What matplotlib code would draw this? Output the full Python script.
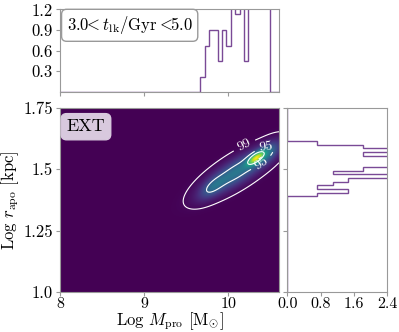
import numpy as np
import matplotlib
matplotlib.use("Agg")
import matplotlib.pyplot as plt

plt.rcParams['font.family'] = 'serif'
plt.rcParams['font.serif'] = ['cmr10', 'DejaVu Serif']
plt.rcParams['mathtext.fontset'] = 'cm'
plt.rcParams['axes.formatter.use_mathtext'] = True

# marginal histograms (density per bin)
mass_bins = np.linspace(8.0, 10.6, 51)
mass_density = [0.0] * 32 + [0.22, 0.66, 0.9, 0.9, 0.45, 0.9, 0.66, 1.6, 1.13,
                             1.8, 0.45, 2.2, 2.6, 2.4, 2.0, 1.5, 0.0, 0.0]
rapo_bins = np.linspace(1.0, 1.75, 51)
rapo_density = [0.0] * 26 + [0.72, 1.46, 0.72, 1.10, 1.46, 9.0, 1.10, 1.82, 12.0,
                             14.0, 10.0, 1.82, 6.0, 1.82, 0.72] + [0.0] * 9

# 2d density: sheared gaussian blobs (centre x, centre y, sigma along, sigma across, weight)
blob_cx = [10.10, 10.32, 9.80, 10.46]
blob_cy = [1.492, 1.547, 1.425, 1.568]
blob_su = [0.26, 0.07, 0.10, 0.10]
blob_sv = [0.037, 0.015, 0.024, 0.026]
blob_w = [0.34, 0.56, 0.16, 0.22]
blob_slope = 0.19

contour_levels = [0.02, 0.30, 0.62]
contour_names = ['99', '95', '68']

xx, yy = np.meshgrid(np.linspace(8.0, 10.6, 300), np.linspace(1.0, 1.75, 300))
zz = np.zeros_like(xx)
for cx, cy, su, sv, w in zip(blob_cx, blob_cy, blob_su, blob_sv, blob_w):
    u = xx - cx
    v = (yy - cy) - blob_slope * u
    zz += w * np.exp(-0.5 * (u / su) ** 2 - 0.5 * (v / sv) ** 2)
zz /= zz.max()

line_col = '#7a4a96'
spine_col = '#999999'

fig = plt.figure(figsize=(3.99, 3.32), dpi=100)
ax = fig.add_axes([0.1504, 0.1205, 0.5489, 0.5542])
ax_top = fig.add_axes([0.1504, 0.7238, 0.5489, 0.2480])
ax_r = fig.add_axes([0.7200, 0.1205, 0.2506, 0.5542])

ax.imshow(zz, origin='lower', extent=[8.0, 10.6, 1.0, 1.75], aspect='auto',
          cmap='viridis', interpolation='bilinear')
cs = ax.contour(xx, yy, zz, levels=contour_levels, colors='white', linewidths=0.8)
ax.clabel(cs, fmt=dict(zip(contour_levels, contour_names)), fontsize=10,
          inline=True, manual=[(10.2, 1.59), (10.45, 1.58), (10.38, 1.53)])
ax.set_xlim(8.0, 10.6)
ax.set_ylim(1.0, 1.75)
ax.set_xticks([8, 9, 10], ['8', '9', '10'])
ax.set_yticks([1.0, 1.25, 1.5, 1.75], ['1.0', '1.25', '1.5', '1.75'])
ax.set_xlabel(r'Log $M_{\rm pro}$ [M$_{\odot}$]', fontsize=12)
ax.xaxis.set_label_coords(0.5, -0.1)
ax.set_ylabel(r'Log $r_{\rm apo}$ [kpc]', fontsize=12, labelpad=2)
ax.text(0.03, 0.94, 'EXT', transform=ax.transAxes, fontsize=13, va='top', ha='left',
        bbox=dict(boxstyle='round,pad=0.3', facecolor='#d8c9de', edgecolor='#d8c9de'))

ax_top.stairs(mass_density, mass_bins, color=line_col, linewidth=1)
ax_top.set_xlim(8.0, 10.6)
ax_top.set_ylim(0, 1.2)
ax_top.set_xticks([8, 9, 10])
ax_top.set_xticklabels([])
ax_top.set_yticks([0.3, 0.6, 0.9, 1.2], ['0.3', '0.6', '0.9', '1.2'])
ax_top.text(0.03, 0.94, r'3.0$\!\!<\!\!$ $t_{\rm lk}$/Gyr $\!\!<\!\!$5.0',
            transform=ax_top.transAxes, fontsize=12, va='top', ha='left',
            bbox=dict(boxstyle='round,pad=0.3', facecolor='white', edgecolor='#999999'))

ax_r.stairs(rapo_density, rapo_bins, orientation='horizontal', color=line_col, linewidth=1)
ax_r.set_ylim(1.0, 1.75)
ax_r.set_xlim(0, 2.4)
ax_r.set_xticks([0.0, 0.8, 1.6, 2.4], ['0.0', '0.8', '1.6', '2.4'])
ax_r.set_yticks([1.0, 1.25, 1.5, 1.75])
ax_r.set_yticklabels([])

for a in (ax, ax_top, ax_r):
    for s in a.spines.values():
        s.set_color(spine_col)
    a.tick_params(labelsize=12, length=3, color=spine_col, pad=2)
    a.tick_params(axis='x', pad=1, labelsize=11.5)

fig.savefig('out.png', dpi=100)
